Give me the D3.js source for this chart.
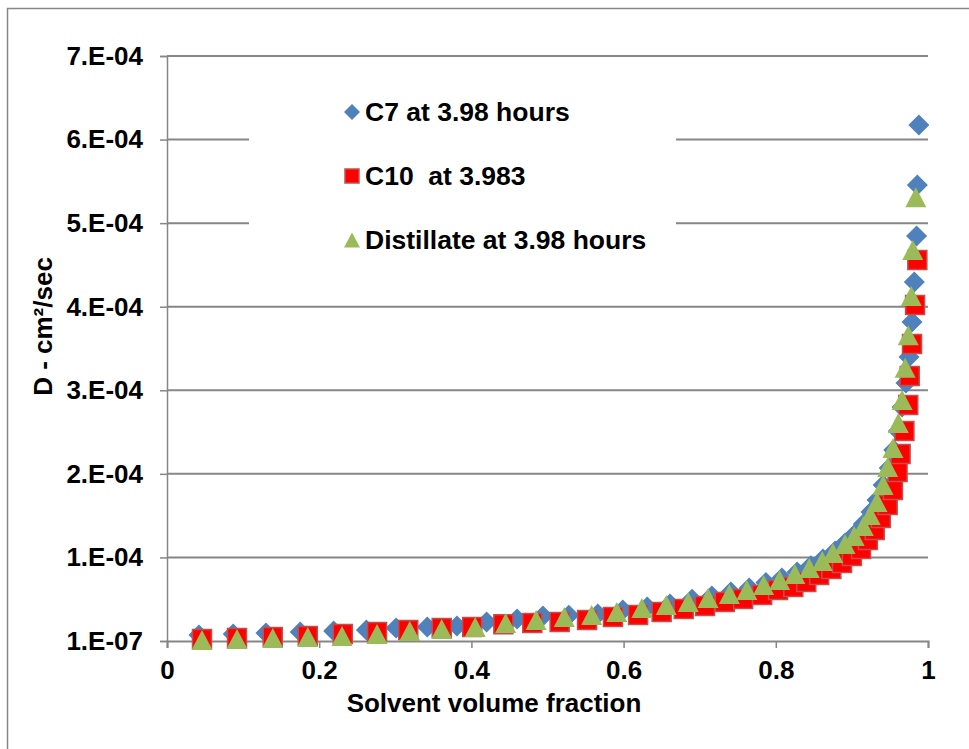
<!DOCTYPE html>
<html>
<head>
<meta charset="utf-8">
<script src="https://cdn.jsdelivr.net/npm/d3@7"></script>
<style>
  html, body { margin: 0; padding: 0; background: #ffffff; }
  svg { display: block; font-family: "Liberation Sans", Arial, sans-serif; font-weight: bold; }
</style>
</head>
<body>
<svg id="chart" width="969" height="749"></svg>
<script>
// ---------------- DATA ----------------
const seriesNames = ["C7 at 3.98 hours", "C10  at 3.983", "Distillate at 3.98 hours"];

const c7X = [0.042,0.087,0.130,0.175,0.219,0.262,0.301,0.342,0.381,0.420,0.460,0.494,0.528,0.566,
  0.599,0.631,0.661,0.690,0.716,0.741,0.765,0.787,0.808,0.828,0.846,0.862,0.878,0.891,0.904,0.915,
  0.925,0.933,0.941,0.949,0.955,0.961,0.966,0.971,0.975,0.979,0.982,0.985,0.986,0.988];
const c7D = [7.3e-6,8.5e-6,9.7e-6,1.09e-5,1.21e-5,1.33e-5,1.57e-5,1.69e-5,1.80e-5,2.28e-5,2.64e-5,3.0e-5,3.1e-5,3.24e-5,
  3.72e-5,4.08e-5,4.44e-5,5.0e-5,5.4e-5,5.87e-5,6.35e-5,7.0e-5,7.55e-5,8.27e-5,9.0e-5,9.82e-5,1.078e-4,1.174e-4,1.281e-4,1.401e-4,
  1.545e-4,1.688e-4,1.868e-4,2.071e-4,2.286e-4,2.514e-4,2.801e-4,3.088e-4,3.399e-4,3.818e-4,4.297e-4,4.847e-4,5.457e-4,6.175e-4];

const c10X = [0.046,0.092,0.139,0.185,0.231,0.276,0.317,0.361,0.401,0.442,0.480,0.516,0.552,0.586,
  0.619,0.650,0.679,0.707,0.733,0.757,0.782,0.803,0.823,0.840,0.857,0.873,0.887,0.900,0.912,0.921,
  0.930,0.938,0.947,0.954,0.960,0.964,0.969,0.974,0.976,0.979,0.983,0.986];
const c10D = [2.5e-6,3.7e-6,4.9e-6,6.1e-6,8.5e-6,1.09e-5,1.33e-5,1.57e-5,1.69e-5,2.0e-5,2.16e-5,2.28e-5,2.52e-5,2.88e-5,
  3.12e-5,3.48e-5,3.84e-5,4.2e-5,4.68e-5,5.04e-5,5.51e-5,6.11e-5,6.47e-5,7.07e-5,7.91e-5,8.63e-5,9.34e-5,1.018e-4,1.102e-4,1.210e-4,
  1.329e-4,1.473e-4,1.628e-4,1.808e-4,2.023e-4,2.239e-4,2.514e-4,2.825e-4,3.172e-4,3.555e-4,4.022e-4,4.56e-4];

const distX = [0.046,0.092,0.139,0.185,0.230,0.276,0.319,0.361,0.405,0.445,0.485,0.522,0.558,0.591,
  0.624,0.656,0.685,0.711,0.739,0.762,0.784,0.805,0.825,0.844,0.861,0.875,0.891,0.903,0.915,0.924,
  0.933,0.941,0.947,0.954,0.961,0.966,0.970,0.974,0.978,0.980,0.984];
const distD = [1.3e-6,2.5e-6,3.7e-6,4.9e-6,6.1e-6,8.5e-6,1.21e-5,1.45e-5,1.69e-5,2.16e-5,2.52e-5,2.88e-5,3.12e-5,3.48e-5,
  3.96e-5,4.32e-5,4.68e-5,5.16e-5,5.63e-5,6.11e-5,6.71e-5,7.31e-5,8.03e-5,8.74e-5,9.58e-5,1.054e-4,1.162e-4,1.257e-4,1.377e-4,1.509e-4,
  1.664e-4,1.868e-4,2.083e-4,2.31e-4,2.61e-4,2.885e-4,3.27e-4,3.66e-4,4.13e-4,4.68e-4,5.31e-4];

const xTickValues = [0, 0.2, 0.4, 0.6, 0.8, 1];
const xTickLabels = ["0", "0.2", "0.4", "0.6", "0.8", "1"];
const yTickValues = [1e-7, 1.001e-4, 2.001e-4, 3.001e-4, 4.001e-4, 5.001e-4, 6.001e-4, 7.001e-4];
const yTickLabels = ["1.E-07", "1.E-04", "2.E-04", "3.E-04", "4.E-04", "5.E-04", "6.E-04", "7.E-04"];

const xTitle = "Solvent volume fraction";
const yTitle = "D - cm²/sec";

// ---------------- LAYOUT ----------------
const svg = d3.select("#chart");
const plot = { left: 167, right: 928, top: 56, bottom: 641 };
const x = d3.scaleLinear().domain([0, 1]).range([plot.left, plot.right]);
const y = d3.scaleLinear().domain([1e-7, 7.001e-4]).range([plot.bottom, plot.top]);
const gridColor = "#868686";
const fontSize = 26;
const fontFam = "Liberation Sans, Arial, sans-serif";

// outer chart border
svg.append("rect")
  .attr("x", 7.5).attr("y", 8.5).attr("width", 1000).attr("height", 1000)
  .attr("fill", "none").attr("stroke", "#878787").attr("stroke-width", 1.5);

// gridlines
svg.append("g").selectAll("line").data(yTickValues.slice(1)).join("line")
  .attr("x1", plot.left).attr("x2", plot.right)
  .attr("y1", d => y(d)).attr("y2", d => y(d))
  .attr("stroke", gridColor).attr("stroke-width", 2);

// Y axis
const yAxis = d3.axisLeft(y).tickValues(yTickValues)
  .tickFormat((d, i) => yTickLabels[i]).tickSize(7).tickPadding(17);
const gy = svg.append("g").attr("transform", `translate(${plot.left},0)`).call(yAxis);
gy.select(".domain").attr("stroke", gridColor).attr("stroke-width", 1.5);
gy.selectAll(".tick line").attr("stroke", gridColor).attr("stroke-width", 1.5);
gy.selectAll(".tick text").attr("fill", "#000").style("font-size", fontSize + "px")
  .style("font-family", fontFam).style("font-weight", "bold");

// X axis
const xAxis = d3.axisBottom(x).tickValues(xTickValues)
  .tickFormat((d, i) => xTickLabels[i]).tickSize(7).tickPadding(13);
const gx = svg.append("g").attr("transform", `translate(0,${plot.bottom})`).call(xAxis);
gx.select(".domain").attr("stroke", gridColor).attr("stroke-width", 2);
gx.selectAll(".tick line").attr("stroke", gridColor).attr("stroke-width", 1.5);
gx.selectAll(".tick text").attr("fill", "#000").style("font-size", fontSize + "px")
  .style("font-family", fontFam).style("font-weight", "bold");

// axis titles
svg.append("text").attr("x", 494).attr("y", 712)
  .attr("text-anchor", "middle").style("font-size", fontSize + "px").text(xTitle);
svg.append("text")
  .attr("transform", `translate(52,${(plot.top + plot.bottom) / 2 - 22}) rotate(-90)`)
  .attr("text-anchor", "middle").style("font-size", fontSize + "px").text(yTitle);

// marker shapes
const diamondPath = r => `M0,${-r}L${r},0L0,${r}L${-r},0Z`;
const squarePath = s => `M${-s/2},${-s/2}H${s/2}V${s/2}H${-s/2}Z`;
const trianglePath = (w, h) => `M0,${-h/2}L${w/2},${h/2}L${-w/2},${h/2}Z`;

const styles = [
  { path: diamondPath(10.5), fill: "#4F81BD", stroke: "none", sw: 0 },
  { path: squarePath(19), fill: "#FF0000", stroke: "#C0504D", sw: 1.5 },
  { path: trianglePath(21, 20), fill: "#9BBB59", stroke: "none", sw: 0 }
];

const series = [
  d3.zip(c7X, c7D),
  d3.zip(c10X, c10D),
  d3.zip(distX, distD)
];

series.forEach((pts, i) => {
  svg.append("g").selectAll("path").data(pts).join("path")
    .attr("d", styles[i].path)
    .attr("transform", d => `translate(${x(d[0])},${y(d[1])})`)
    .attr("fill", styles[i].fill)
    .attr("stroke", styles[i].stroke)
    .attr("stroke-width", styles[i].sw);
});

// legend (white box covering gridlines)
const legend = svg.append("g");
legend.append("rect").attr("x", 249).attr("y", 84).attr("width", 427).attr("height", 186).attr("fill", "#fff");
const legendRowY = [112, 176, 240];
const legendPaths = [diamondPath(8), squarePath(14), trianglePath(16, 15)];
seriesNames.forEach((name, i) => {
  legend.append("path").attr("d", legendPaths[i])
    .attr("transform", `translate(352,${legendRowY[i]})`)
    .attr("fill", styles[i].fill).attr("stroke", styles[i].stroke).attr("stroke-width", styles[i].sw);
  legend.append("text").attr("x", 365).attr("y", legendRowY[i] + 9)
    .style("font-size", "26.5px").attr("xml:space", "preserve").style("white-space", "pre").text(name);
});
</script>
</body>
</html>
